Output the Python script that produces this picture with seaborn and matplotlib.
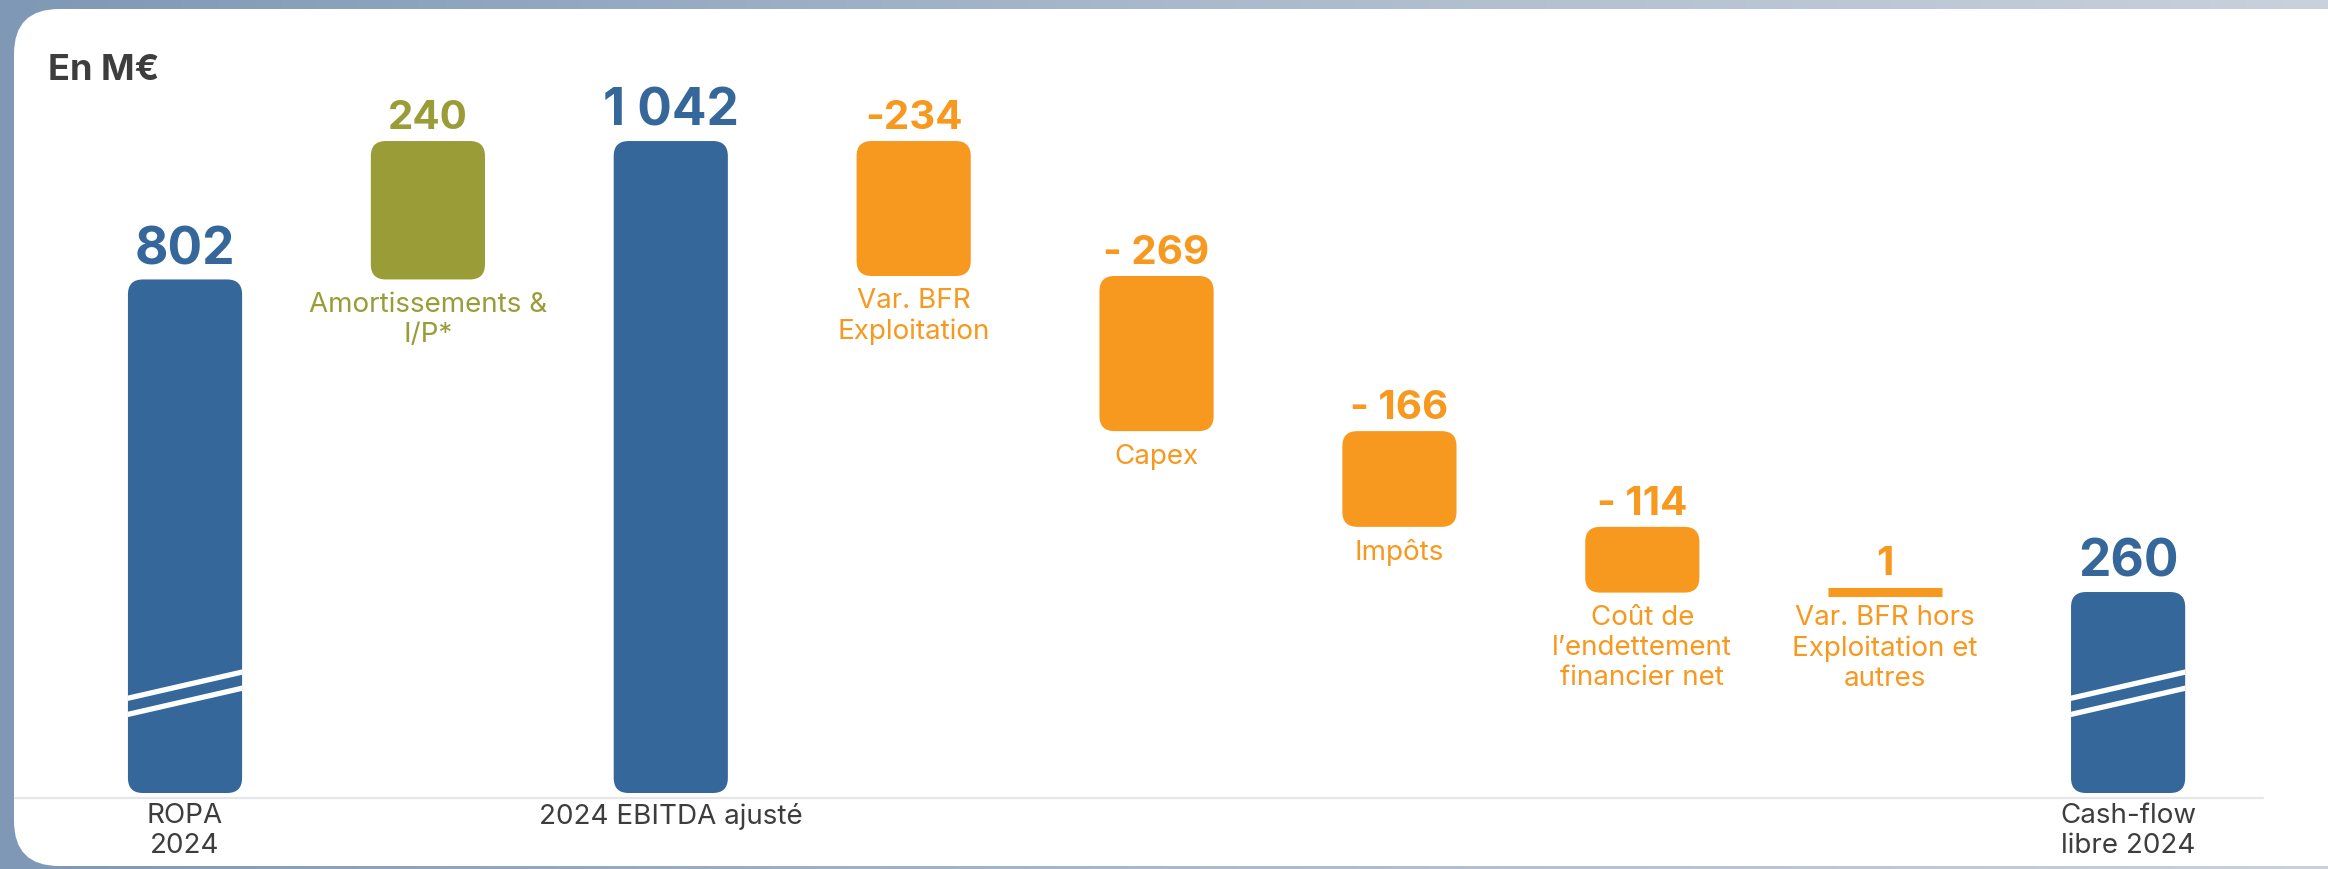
import matplotlib.pyplot as plt
import matplotlib.patches as mpatches
from matplotlib.lines import Line2D
from matplotlib.colors import LinearSegmentedColormap
import seaborn as sns
import numpy as np
import pandas as pd

# --- data -------------------------------------------------------------
categories = [
    "ROPA\n2024",
    "Amortissements &\nI/P*",
    "2024 EBITDA ajusté",
    "Var. BFR\nExploitation",
    "Capex",
    "Impôts",
    "Coût de\nl’endettement\nfinancier net",
    "Var. BFR hors\nExploitation et\nautres",
    "Cash-flow\nlibre 2024",
]
values = [802, 240, 1042, -234, -269, -166, -114, 1, 260]
value_labels = ["802", "240", "1 042", "-234", "- 269", "- 166", "- 114", "1", "260"]
kinds = ["total", "plus", "total", "flux", "flux", "flux", "flux", "flux", "total"]
broken = [True, False, False, False, False, False, False, False, True]

# --- style ------------------------------------------------------------
W, H = 2328, 869
BASE = -88.5          # floor of the broken axis
PX_PER_UNIT = 0.5767
colors = {"total": "#35679a", "plus": "#9a9c38", "flux": "#f7981f"}
text_dark = "#3d3d3d"

sns.set_style("white")
plt.rcParams["font.family"] = ["Inter", "DejaVu Sans"]

fig = plt.figure(figsize=(W / 100, H / 100), dpi=100)

# background frame + white card
bg = fig.add_axes([0, 0, 1, 1], zorder=0)
bg.set_xlim(0, W)
bg.set_ylim(H, 0)
bg.axis("off")
cmap = LinearSegmentedColormap.from_list("frame", ["#7f98b5", "#a9b9cb", "#c8d1dc"])
bg.imshow(np.linspace(0, 1, 256)[None, :], cmap=cmap, aspect="auto",
          extent=[0, W, H, 0])
bg.add_patch(mpatches.FancyBboxPatch((14, 9), W + 30, 857,
                                     boxstyle="round,pad=0,rounding_size=45",
                                     fc="white", ec="none"))
bg.add_line(Line2D([15, 2263], [798, 798], color="#e4e6ea", lw=1.6))
bg.text(48, 70, "En M€", fontsize=26, fontweight="bold", color=text_dark,
        va="center", ha="left")

# --- waterfall --------------------------------------------------------
bottoms, heights, tops = [], [], []
run = 0
for v, k in zip(values, kinds):
    if k == "total":
        bottoms.append(BASE)
        heights.append(v - BASE)
        run = v
    elif v >= 0:
        bottoms.append(run)
        heights.append(v)
        run += v
    else:
        run += v
        bottoms.append(run)
        heights.append(-v)
    tops.append(bottoms[-1] + heights[-1])

df = pd.DataFrame({"cat": categories, "height": heights})

ax = fig.add_axes([0, (H - 793) / H, 1, 793 / H], zorder=1)
ax.set_facecolor("none")
sns.barplot(data=df, x="cat", y="height", order=categories, width=0.47,
            color=colors["total"], ax=ax)

xlim = (-0.7617, 8.823)
ylim = (BASE, BASE + 793 / PX_PER_UNIT)
ax.set_xlim(*xlim)
ax.set_ylim(*ylim)
ax.axis("off")

x_per_px = (xlim[1] - xlim[0]) / W
y_per_px = 1 / PX_PER_UNIT
radius = 15 * x_per_px

for i, p in enumerate(list(ax.patches)):
    x0, w = p.get_x(), p.get_width()
    xc = x0 + w / 2
    p.set_visible(False)
    col = colors[kinds[i]]

    if heights[i] * PX_PER_UNIT < 20:
        # tiny variation: drawn as a flat line
        y_line = bottoms[i] + heights[i] / 2
        ax.hlines(y_line, x0, x0 + w, color=col, lw=6.5)
        top = y_line + 5 * y_per_px
    else:
        bar = mpatches.FancyBboxPatch(
            (x0, bottoms[i]), w, heights[i],
            boxstyle=f"round,pad=0,rounding_size={radius}",
            mutation_aspect=y_per_px / x_per_px,
            fc=col, ec="none")
        ax.add_patch(bar)
        top = tops[i]
        if broken[i]:
            for y0 in (48, 76):
                ln, = ax.plot([x0 - 0.05, x0 + w + 0.05], [y0 - 5, y0 + 50],
                              color="white", lw=3.8, solid_capstyle="butt")
                ln.set_clip_path(bar)

    fs = 37 if kinds[i] == "total" else 29
    ax.annotate(value_labels[i], (xc, top), xytext=(0, 3), textcoords="offset points",
                ha="center", va="bottom", fontsize=fs, fontweight="bold",
                color=col, annotation_clip=False)

    if kinds[i] == "total":
        ax.annotate(categories[i], (xc, BASE), xytext=(0, -7),
                    textcoords="offset points", ha="center", va="top",
                    fontsize=20, color=text_dark, linespacing=1.2,
                    annotation_clip=False)
    else:
        ax.annotate(categories[i], (xc, bottoms[i]), xytext=(0, -9),
                    textcoords="offset points", ha="center", va="top",
                    fontsize=20, color=col, linespacing=1.2,
                    annotation_clip=False)

fig.savefig("out.png", dpi=100)
